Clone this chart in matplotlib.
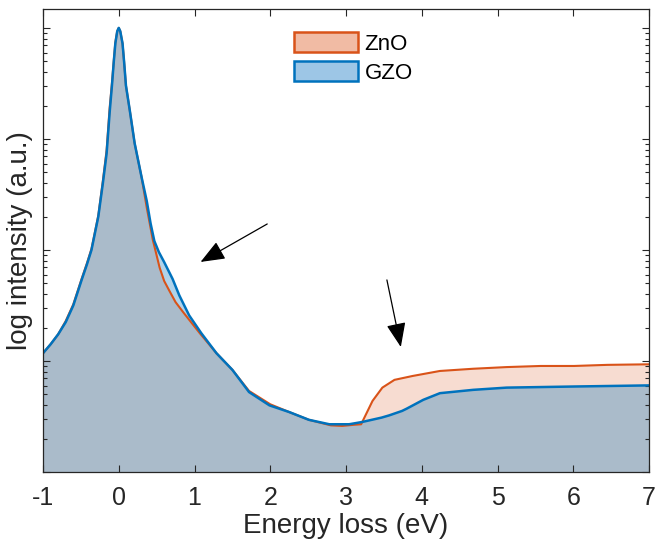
import numpy as np
import matplotlib.pyplot as plt
from matplotlib.patches import Patch

plt.rcParams['font.family'] = ['Liberation Sans', 'DejaVu Sans']

# energy loss (eV) and log10 of normalised intensity, GZO film
gzo_e = [-1.00, -0.90, -0.80, -0.70, -0.60, -0.49, -0.42, -0.36, -0.27, -0.21,
         -0.16, -0.12, -0.09, -0.065, -0.045, -0.02, 0.00, 0.02, 0.05, 0.07,
         0.095, 0.145, 0.21, 0.30, 0.37, 0.42, 0.47, 0.53, 0.60, 0.71,
         0.80, 0.93, 1.09, 1.29, 1.50, 1.72, 1.99, 2.25, 2.51, 2.78,
         3.04, 3.21, 3.47, 3.57, 3.74, 3.80, 4.02, 4.24, 4.68, 5.12,
         6.01, 7.00]
gzo_log = [-2.93, -2.85, -2.76, -2.65, -2.50, -2.27, -2.13, -2.00, -1.70, -1.40,
           -1.13, -0.76, -0.52, -0.30, -0.14, -0.03, 0.00, -0.03, -0.14, -0.30,
           -0.52, -0.74, -1.04, -1.34, -1.56, -1.76, -1.92, -2.02, -2.11, -2.26,
           -2.41, -2.59, -2.75, -2.93, -3.08, -3.28, -3.40, -3.46, -3.53, -3.57,
           -3.57, -3.55, -3.51, -3.49, -3.45, -3.43, -3.35, -3.29, -3.26, -3.24,
           -3.23, -3.22]

# same for undoped ZnO
zno_e = [-1.00, -0.90, -0.80, -0.70, -0.60, -0.49, -0.42, -0.36, -0.27, -0.21,
         -0.16, -0.12, -0.09, -0.065, -0.045, -0.02, 0.00, 0.02, 0.05, 0.07,
         0.095, 0.145, 0.21, 0.30, 0.37, 0.45, 0.54, 0.60, 0.67, 0.75,
         0.85, 1.07, 1.29, 1.50, 1.72, 2.00, 2.25, 2.51, 2.80, 2.95,
         3.10, 3.20, 3.35, 3.48, 3.64, 3.88, 4.24, 4.68, 5.12, 5.57,
         6.01, 6.45, 7.00]
zno_log = [-2.93, -2.85, -2.76, -2.64, -2.49, -2.26, -2.12, -1.99, -1.69, -1.38,
           -1.10, -0.72, -0.50, -0.29, -0.13, -0.03, 0.00, -0.03, -0.14, -0.30,
           -0.52, -0.74, -1.04, -1.34, -1.62, -1.91, -2.16, -2.28, -2.37, -2.47,
           -2.56, -2.75, -2.93, -3.08, -3.27, -3.39, -3.46, -3.53, -3.58, -3.585,
           -3.575, -3.57, -3.36, -3.24, -3.17, -3.135, -3.09, -3.07, -3.055, -3.045,
           -3.045, -3.035, -3.03]

orange = '#D95319'
blue = '#0072BD'
ymin, ymax = 1e-4, 1.48

fig = plt.figure(figsize=(6.56, 5.48), dpi=100)
ax = fig.add_axes([43 / 656, 76 / 548, 606 / 656, 463 / 548])

zno = 10 ** np.array(zno_log)
gzo = 10 ** np.array(gzo_log)

ax.fill_between(zno_e, zno, 1e-6, facecolor=orange, alpha=0.2, linewidth=0)
ax.plot(zno_e, zno, color=orange, lw=1.5)
ax.fill_between(gzo_e, gzo, 1e-6, facecolor=blue, alpha=0.31, linewidth=0)
ax.plot(gzo_e, gzo, color=blue, lw=1.8)

ax.set_yscale('log')
ax.set_xlim(-1, 7)
ax.set_ylim(ymin, ymax)
ax.set_xticks(range(-1, 8))
ax.set_xticklabels([str(v) for v in range(-1, 8)])
ax.yaxis.set_major_formatter(plt.NullFormatter())
ax.yaxis.set_minor_formatter(plt.NullFormatter())

ax.tick_params(which='both', direction='in', top=True, right=True,
               color='#262626', labelsize=18, labelcolor='#262626')
ax.tick_params(which='major', length=5, width=0.8)
ax.tick_params(which='minor', length=3, width=0.8)
ax.tick_params(axis='x', pad=10)
for s in ax.spines.values():
    s.set_color('#262626')
    s.set_linewidth(0.9)

ax.set_xlabel('Energy loss (eV)', fontsize=20, color='#262626', labelpad=2)
ax.set_ylabel('log intensity (a.u.)', fontsize=20, color='#262626', labelpad=4)

# arrows pointing at the shoulder and the onset
arrow = dict(arrowstyle='-|>,head_length=0.75,head_width=0.3', color='black',
             lw=0.9, mutation_scale=20, shrinkA=0, shrinkB=0)
ax.annotate('', xy=(1.08, 10 ** -2.108), xytext=(1.96, 10 ** -1.766),
            arrowprops=arrow)
ax.annotate('', xy=(3.724, 10 ** -2.874), xytext=(3.54, 10 ** -2.27),
            arrowprops=arrow)

handles = [Patch(facecolor='#F1BBA4', edgecolor=orange, lw=1.8, label='ZnO'),
           Patch(facecolor='#9DC6E6', edgecolor=blue, lw=1.8, label='GZO')]
ax.legend(handles=handles, loc='upper left', bbox_to_anchor=(0.415, 0.95),
          frameon=False, fontsize=16, handlelength=2.85, handleheight=1.0,
          handletextpad=0.3, labelspacing=0.3, borderpad=0, borderaxespad=0)

fig.savefig('out.png', dpi=100)
